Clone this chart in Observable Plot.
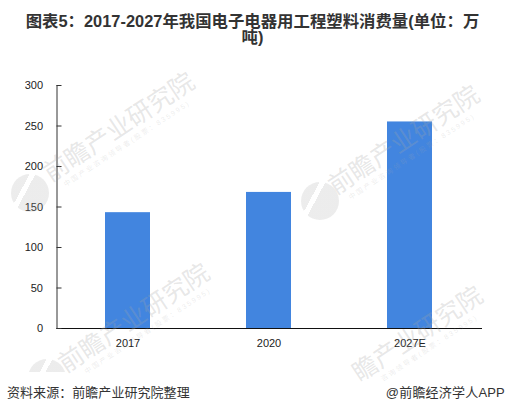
<!DOCTYPE html>
<html><head><meta charset="utf-8">
<script src="https://cdn.jsdelivr.net/npm/d3@7"></script>
<script src="https://cdn.jsdelivr.net/npm/@observablehq/plot@0.6"></script>
<style>
html,body{margin:0;padding:0;background:#fff;}
body{width:505px;height:412px;position:relative;overflow:hidden;font-family:"Liberation Sans","Noto Sans CJK SC",sans-serif;}
#title{position:absolute;left:18px;top:13px;width:469px;text-align:center;font-size:16.4px;font-weight:bold;line-height:16px;color:#333;}
#chart{position:absolute;left:0;top:46px;}
#chart svg{background:transparent;}
#src{position:absolute;left:7px;top:382px;font-size:13px;color:#333;letter-spacing:.05px;}
#brand{position:absolute;right:0;top:382px;font-size:13px;color:#333;letter-spacing:.2px;}
.wm{position:absolute;transform-origin:0 50%;transform:rotate(-33.5deg);white-space:nowrap;color:rgba(165,165,165,.27);font-size:25px;line-height:25px;height:25px;}
.wm small{position:absolute;top:26px;font-size:7px;line-height:9px;letter-spacing:1.9px;color:rgba(170,170,170,.22);}
.logo{position:absolute;width:38px;height:38px;border-radius:50%;background:linear-gradient(118deg,rgba(170,170,170,.22) 0 32%,transparent 32% 42%,rgba(170,170,170,.22) 42%);}
#clip{position:absolute;left:0;top:0;width:505px;height:372px;overflow:hidden;}
</style></head><body>
<div id="title"></div>
<div id="chart"></div>
<div id="clip"></div>
<div id="marks"></div>
<div id="src"></div>
<div id="brand"></div>
<script>
const categories = ["2017","2020","2027E"];
const values = [143,168,255];
const yTicks = [0,50,100,150,200,250,300];
const titleText = "图表5：2017-2027年我国电子电器用工程塑料消费量(单位：万吨)";
const sourceText = "资料来源：前瞻产业研究院整理";
const brandText = "@前瞻经济学人APP";
const watermarkText = "前瞻产业研究院";
const watermarkTail = "瞻产业研究院";
const watermarkSub = "中国产业咨询领导者(股票：835995)";
const watermarkSubTail = "咨询领导者(股票：835995)";
const rows = categories.map((c,i)=>({c,v:values[i]}));

document.getElementById("title").textContent = titleText;
document.getElementById("src").textContent = sourceText;
document.getElementById("brand").textContent = brandText;

const chart = Plot.plot({
  width:505,height:329,marginLeft:56.5,marginRight:24,marginTop:39,marginBottom:47,
  style:{background:"transparent",fontFamily:'"Liberation Sans","Noto Sans CJK SC",sans-serif',fontSize:"11px",color:"#222"},
  x:{domain:categories,paddingInner:0.68,paddingOuter:0.34,label:null},
  y:{domain:[0,300],label:null},
  marks:[
    Plot.barY(rows,{x:"c",y:"v",fill:"#4285df"}),
    Plot.frame({anchor:"left",stroke:"#333"}),
    Plot.frame({anchor:"bottom",stroke:"#111"}),
    Plot.axisY({ticks:yTicks,tickSize:-5,tickPadding:19,stroke:"#333",label:null,fontSize:11}),
    Plot.axisX({tickSize:0,tickPadding:11,label:null,fontSize:11})
  ]
});
document.getElementById("chart").appendChild(chart);

const clip = document.getElementById("clip");
const marks = document.getElementById("marks");
[[45.5,162.5,watermarkText,watermarkSub,10],
 [330.5,175.5,watermarkText,watermarkSub,10],
 [60.5,354,watermarkText,watermarkSub,17],
 [354.5,362.5,watermarkTail,watermarkSubTail,20]].forEach(([l,t,txt,sub,sx])=>{
  const d=document.createElement("div");d.className="wm";d.style.left=l+"px";d.style.top=t+"px";
  d.textContent=txt;
  const s=document.createElement("small");s.textContent=sub;s.style.left=sx+"px";d.appendChild(s);
  marks.appendChild(d);
});
[[11,174],[301,182],[28,359]].forEach(([lx,ly])=>{
  const o=document.createElement("div");o.className="logo";o.style.left=lx+"px";o.style.top=ly+"px";clip.appendChild(o);
});
</script>
</body></html>
